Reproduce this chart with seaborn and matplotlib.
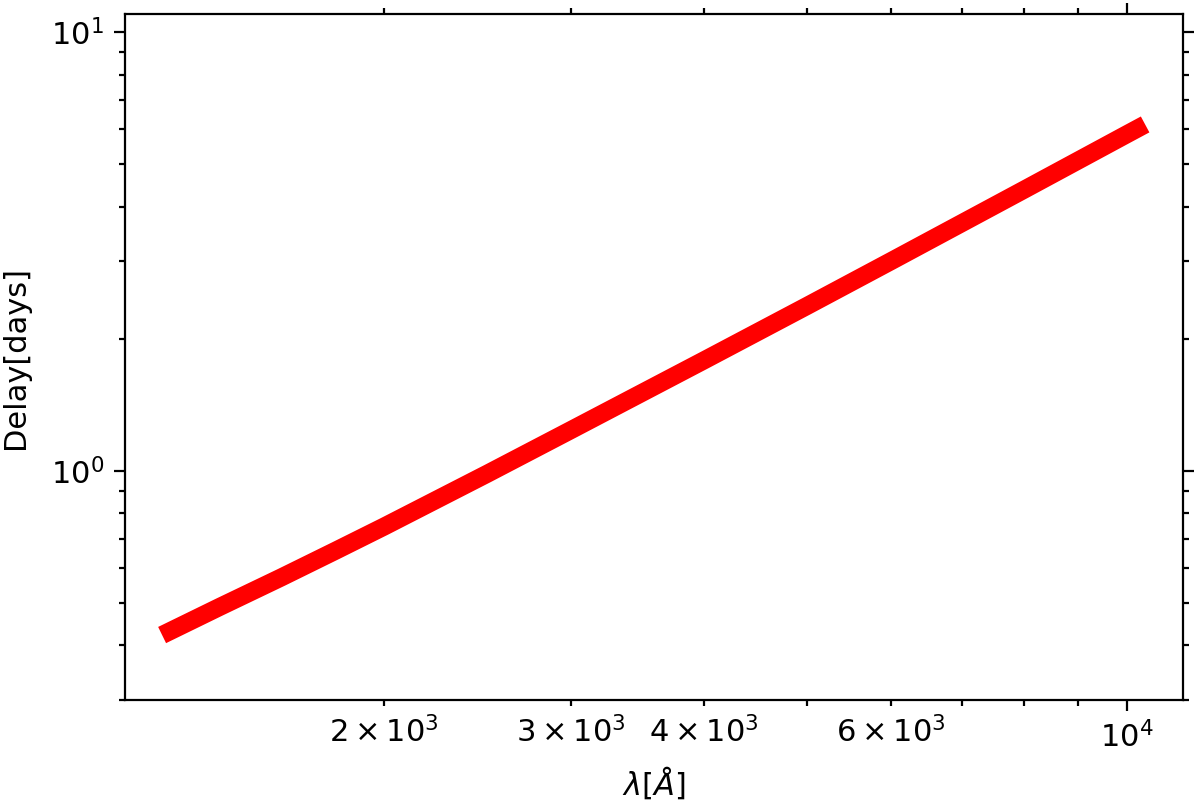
import pandas as pd
import matplotlib
matplotlib.use("Agg")
import matplotlib.pyplot as plt
import seaborn as sns

# Values (wavelength in Angstrom, delay in days)
wavelength = [1236, 1400, 1600, 1800, 2000, 2500, 3000, 4000, 5000, 6000, 8000, 10000, 10405]
delay = [0.422, 0.489, 0.571, 0.657, 0.746, 0.984, 1.239, 1.785, 2.375, 3.006, 4.37, 5.85, 6.16]

df = pd.DataFrame({"wavelength": wavelength, "delay": delay})

sns.set_style("ticks")
plt.rcParams["font.family"] = ["DejaVu Sans"]
plt.rcParams["mathtext.fontset"] = "dejavusans"
plt.rcParams["text.color"] = "black"
plt.rcParams["axes.labelcolor"] = "black"
plt.rcParams["xtick.color"] = "black"
plt.rcParams["ytick.color"] = "black"

fig = plt.figure(figsize=(6, 4.025), dpi=200)
ax = fig.add_axes([0.104, 0.1304, 0.882, 0.8522])

sns.lineplot(data=df, x="wavelength", y="delay", ax=ax,
             color="red", linewidth=6.5, solid_capstyle="butt")

ax.set_xscale("log")
ax.set_yscale("log")
ax.set_xlim(1140, 11300)
ax.set_ylim(0.3, 11.0)

ax.set_xlabel(r"$\lambda[\AA]$", fontsize=11)
ax.set_ylabel("Delay[days]", fontsize=11, labelpad=7.5)

ax.tick_params(which="both", direction="out", top=True, right=True,
               labelsize=11, width=0.8, color="black", labelcolor="black")
ax.tick_params(which="major", length=4)
ax.tick_params(which="minor", length=2.2)
for s in ax.spines.values():
    s.set_linewidth(0.8)
    s.set_color("black")

fig.savefig("out.png", dpi=200)
